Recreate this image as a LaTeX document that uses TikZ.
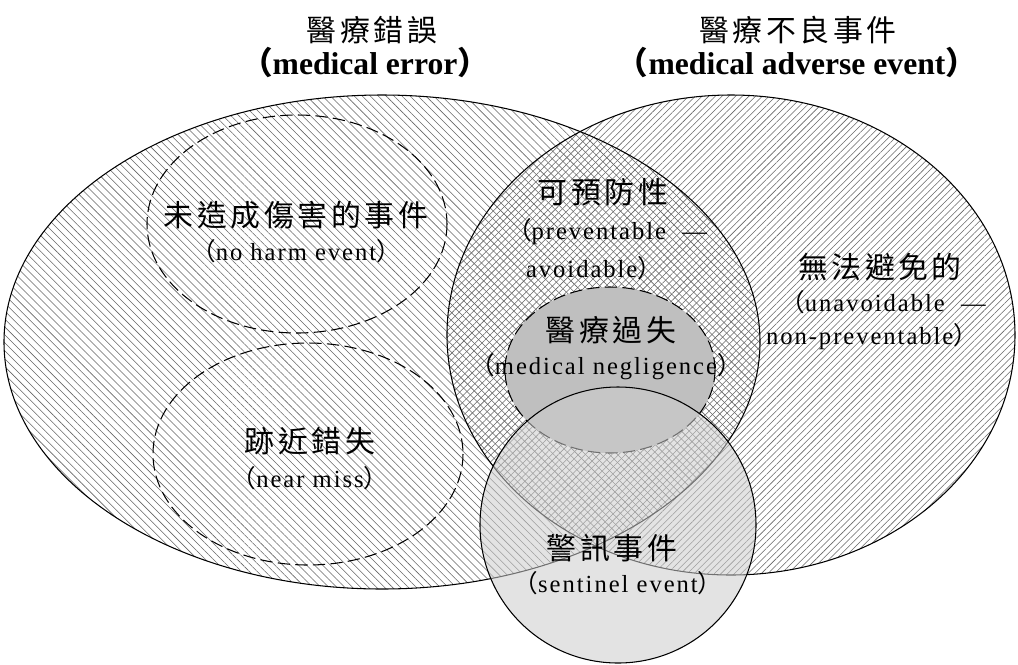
\documentclass[tikz,border=0pt]{standalone}
\usepackage{fontspec}
\setmainfont{Liberation Serif}
\newfontfamily\cjk[LetterSpace=12]{Noto Sans CJK TC}
\newfontfamily\latinsp[LetterSpace=8]{Liberation Serif}
\newcommand{\zlp}{{\cjk （}}
\newcommand{\zrp}{{\cjk ）}}
\usetikzlibrary{patterns.meta}

\begin{document}
\begin{tikzpicture}
[x=0.02cm,y=-0.02cm,%
  setBorder/.style={draw=black,line width=0.6pt},%
  subsetBorder/.style={draw=black,line width=0.6pt,dash pattern=on 7pt off 3pt},%
  errorFill/.style={pattern={Lines[angle=-45,distance=3.2pt,line width=0.32pt]},pattern color=black!60},%
  adverseFill/.style={pattern={Lines[angle=45,distance=2.7pt,line width=0.32pt]},pattern color=black!60},%
  zhLabel/.style={font=\cjk\fontsize{17}{20}\selectfont,inner sep=0pt},%
  enLabel/.style={font=\latinsp\fontsize{14}{17}\selectfont,inner sep=0pt},%
  titleLabel/.style={font=\bfseries\fontsize{18}{22}\selectfont,inner sep=0pt}]
\useasboundingbox (0,0) rectangle (1018,664);
%% outer sets
\path[errorFill] (382,342) ellipse [x radius=378,y radius=247];
\path[adverseFill] (731,335) ellipse [x radius=284,y radius=240];
\draw[setBorder] (382,342) ellipse [x radius=378,y radius=247];
\draw[setBorder] (731,335) ellipse [x radius=284,y radius=240];
%% inner subsets
\draw[subsetBorder] (297,224) ellipse [x radius=150,y radius=109];
\draw[subsetBorder] (308,454) ellipse [x radius=155,y radius=111];
\draw[subsetBorder,fill=black!25] (610,370) ellipse [x radius=105,y radius=83];
\draw[setBorder,fill=black!20,fill opacity=0.55] (618,525) circle [radius=138];
%% titles
\node (errorZh) at (372,30) [zhLabel] {醫療錯誤};
\node (errorEn) at (365,62) [titleLabel] {\zlp medical error\zrp};
\node (adverseZh) at (798,30) [zhLabel] {醫療不良事件};
\node (adverseEn) at (797,62) [titleLabel] {\zlp medical adverse event\zrp};
%% labels inside
\node (noharmZh) at (296,215) [zhLabel] {未造成傷害的事件};
\node (noharmEn) at (296,251) [enLabel] {\zlp no harm event\zrp};
\node (preventZh) at (603,192) [zhLabel] {可預防性};
\node (preventEn) at (607,232) [enLabel] {\zlp preventable \ —};
\node (preventEnb) at (594,268) [enLabel] {avoidable\zrp};
\node (unavoidZh) at (880,267) [zhLabel] {無法避免的};
\node (unavoidEn) at (883,302) [enLabel] {\zlp unavoidable \ —};
\node (unavoidEnb) at (872,337) [enLabel] {non-preventable\zrp};
\node (negligZh) at (611,330) [zhLabel] {醫療過失};
\node (negligEn) at (606,367) [enLabel] {\zlp medical negligence\zrp};
\node (nearZh) at (310,441) [zhLabel] {跡近錯失};
\node (nearEn) at (310,478) [enLabel] {\zlp near miss\zrp};
\node (sentinelZh) at (612,548) [zhLabel] {警訊事件};
\node (sentinelEn) at (618,583) [enLabel] {\zlp sentinel event\zrp};
\end{tikzpicture}
\end{document}
